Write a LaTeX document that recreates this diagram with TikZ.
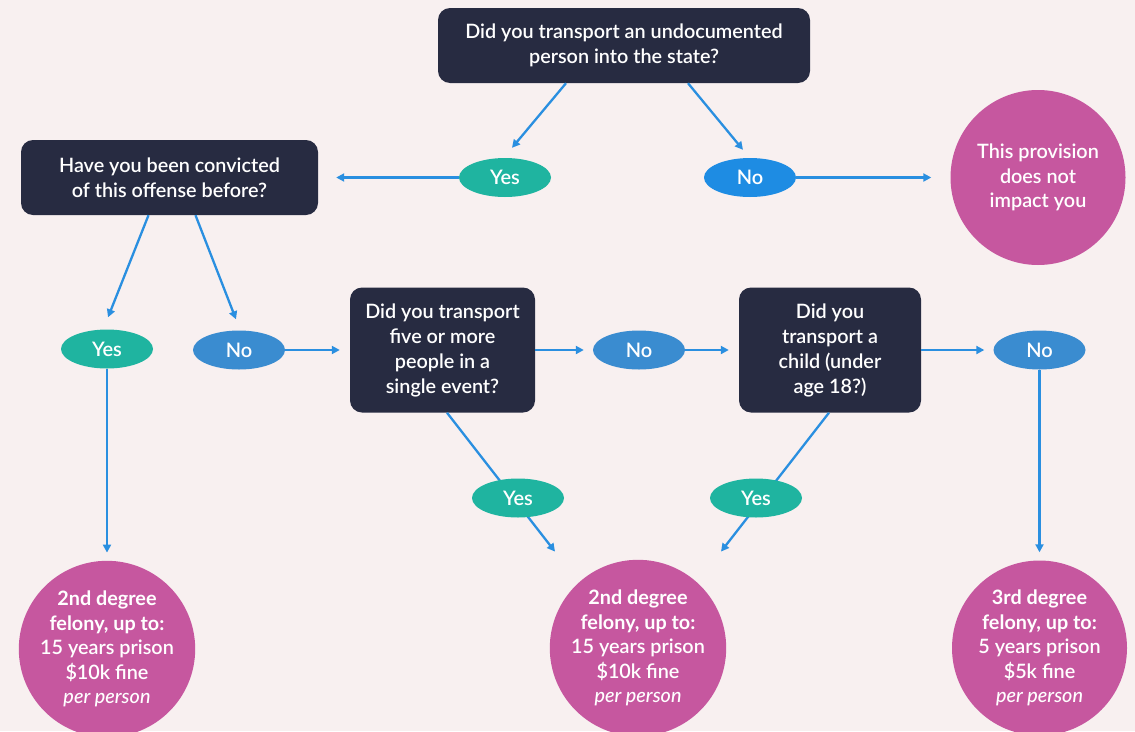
\documentclass[tikz,border=0pt]{standalone}
\usepackage{fontspec}
\setmainfont{Lato}[UprightFont=* Semibold, BoldFont=* Bold, ItalicFont=* Medium Italic]
\usetikzlibrary{shapes.geometric,arrows.meta,calc}
\definecolor{bgc}{HTML}{F8F0F0}
\definecolor{navy}{HTML}{272B41}
\definecolor{tealc}{HTML}{1FB4A0}
\definecolor{blueA}{HTML}{1E8CE3}
\definecolor{blueB}{HTML}{3A8CD0}
\definecolor{magc}{HTML}{C6579F}
\definecolor{arrc}{HTML}{2A8FE0}
\begin{document}
\begin{tikzpicture}[x=1pt,y=-1pt,
  qbox/.style={fill=navy, rounded corners=12pt, text=white, align=center, inner sep=0pt,
    font=\fontsize{19.8}{25}\selectfont},
  yesnode/.style={ellipse, fill=tealc, minimum width=92pt, minimum height=39pt, inner sep=0pt,
    text=white, font=\fontsize{20}{20}\selectfont},
  nonode/.style={ellipse, fill=blueB, minimum width=92pt, minimum height=39pt, inner sep=0pt,
    text=white, font=\fontsize{20}{20}\selectfont},
  res/.style={circle, fill=magc, minimum size=175pt, inner sep=0pt, text=white, align=center,
    font=\fontsize{19.8}{24.5}\selectfont},
  arr/.style={draw=arrc, line width=2.3pt, -{Triangle[length=8pt,width=8pt]}}
]
\fill[bgc] (0,0) rectangle (1135,731);
\useasboundingbox (0,0) rectangle (1135,731);

% question boxes
\node[qbox, minimum width=372pt, minimum height=75pt] (q1) at (624,45.5)
  {Did you transport an undocumented\\person into the state?};
\node[qbox, minimum width=297pt, minimum height=75pt] (q2) at (169.5,177.5)
  {Have you been convicted\\of this offense before?};
\node[qbox, minimum width=185pt, minimum height=125pt] (q3) at (442.5,350)
  {Did you transport\\five or more\\people in a\\single event?};
\node[qbox, minimum width=182pt, minimum height=125pt] (q4) at (830,350)
  {Did you\\transport a\\child (under\\age 18?)};

% answers
\node[yesnode] (y1) at (505,177.5) {Yes};
\node[nonode, fill=blueA] (n1) at (750,177.5) {No};
\node[yesnode] (y2) at (107,349) {Yes};
\node[nonode] (n2) at (239,350) {No};
\node[nonode] (n3) at (639,350) {No};
\node[nonode] (n4) at (1039.5,350) {No};

% results
\node[res] (c1) at (1038,177.5) {This provision\\does not\\impact you};
\node[res] (c2) at (107,649)
  {\textbf{2nd degree}\\\textbf{felony, up to:}\\15 years prison\\\$10k fine\\\textit{per person}};
\node[res] (c3) at (638,648)
  {\textbf{2nd degree}\\\textbf{felony, up to:}\\15 years prison\\\$10k fine\\\textit{per person}};
\node[res] (c4) at (1039.5,648)
  {\textbf{3rd degree}\\\textbf{felony, up to:}\\5 years prison\\\$5k fine\\\textit{per person}};

% connectors
\draw[arr] ($(q1.south)+(-58,0)$) -- ($(y1.north)+(7,-10)$);
\draw[arr] ($(q1.south)+(64,0)$) -- ($(n1.north)+(-7,-8)$);
\draw[arr] (y1.west) -- ($(q2.east)+(18,0)$);
\draw[arr] (n1.east) -- ($(c1.west)+(-19,0)$);
\draw[arr] ($(q2.south)+(-21,0)$) -- ($(y2.north)+(1,-12)$);
\draw[arr] ($(q2.south)+(26,0)$) -- ($(n2.north)+(-3,-11)$);
\draw[arr] (n2.east) -- ($(q3.west)+(-10,0)$);
\draw[arr] (q3.east) -- ($(n3.west)+(-9,0)$);
\draw[arr] (n3.east) -- ($(q4.west)+(-10,0)$);
\draw[arr] (q4.east) -- ($(n4.west)+(-9,0)$);
\draw[arr] (n4.south) -- ($(c4.north)+(0,-8)$);
\draw[arr] (y2.south) -- ($(c2.north)+(0,-8)$);

% diagonal Yes branches (lines pass behind the Yes ovals)
\coordinate (t3) at ($(c3.north)+(-83,-8)$);
\coordinate (t4) at ($(c3.north)+(83,-8)$);
\draw[arr] ($(q3.south)+(4.5,0)$) -- (t3);
\draw[arr] ($(q4.south)+(-1,0)$) -- (t4);
\node[yesnode] (y3) at (518,498) {Yes};
\node[yesnode] (y4) at (756,498) {Yes};
\end{tikzpicture}
\end{document}
